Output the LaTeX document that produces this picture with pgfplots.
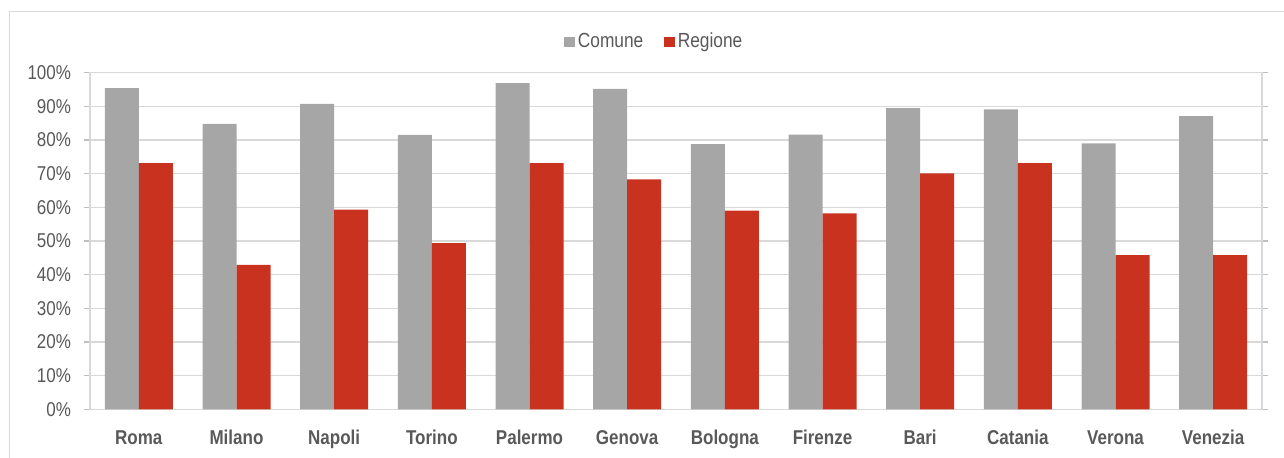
\documentclass[border=0pt]{standalone}
\usepackage{fontspec}
\setmainfont{Liberation Sans}[FakeStretch=0.85]
\usepackage{pgfplots}
\pgfplotsset{compat=1.18}
\definecolor{txt}{HTML}{595959}
\definecolor{gridc}{HTML}{D9D9D9}
\definecolor{axc}{HTML}{BFBFBF}
\definecolor{barg}{HTML}{A6A6A6}
\definecolor{barr}{HTML}{C9321F}
\begin{document}
\begin{tikzpicture}
\path[use as bounding box] (0,0) rectangle (642pt,229pt);
\draw[gridc, line width=0.7pt] (650pt,223.15pt) -- (4.8pt,223.15pt) -- (4.8pt,-5pt);
\begin{axis}[
  at={(45pt,24.35pt)}, anchor=south west,
  scale only axis, width=586pt, height=168.3pt,
  ybar=0pt, bar width=17pt,
  xmin=-0.5, xmax=11.5, ymin=0, ymax=100,
  xtick=data,
  xticklabels={Roma,Milano,Napoli,Torino,Palermo,Genova,Bologna,Firenze,Bari,Catania,Verona,Venezia},
  xtick style={draw=none},
  xticklabel style={font=\fontsize{10}{12}\selectfont\bfseries, text=txt, anchor=base, inner sep=0pt, yshift=-14.8pt},
  ytick={0,10,...,100},
  yticklabel={\pgfmathprintnumber{\tick}\%},
  /pgf/number format/assume math mode=true,
  yticklabel style={font=\fontsize{10}{12}\selectfont, text=txt, anchor=east, inner sep=0pt, xshift=-6.3pt},
  tick align=outside, major tick length=3pt,
  ytick style={axc, line width=0.7pt},
  ymajorgrids, grid style={gridc, line width=0.75pt},
  axis line style={gridc, line width=0.7pt},
  legend columns=2,
  legend style={at={(0.482,1.092)}, anchor=center, draw=none, fill=none,
    font=\fontsize{10.2}{12}\selectfont, text=txt,
    /tikz/every even column/.append style={column sep=9pt},
    nodes={inner sep=1.5pt}},
  legend image code/.code={\fill[#1] (0pt,-2.6pt) rectangle (5.2pt,2.6pt);},
]
\addplot[fill=barg, draw=none] coordinates {(0,95.4) (1,84.8) (2,90.7) (3,81.5) (4,96.9) (5,95.2) (6,78.8) (7,81.6) (8,89.5) (9,89.1) (10,79.0) (11,87.1)};
\addplot[fill=barr, draw=none] coordinates {(0,73.1) (1,42.9) (2,59.3) (3,49.4) (4,73.1) (5,68.3) (6,59.0) (7,58.2) (8,70.1) (9,73.1) (10,45.8) (11,45.8)};
\legend{Comune,Regione}
\end{axis}
\end{tikzpicture}
\end{document}
